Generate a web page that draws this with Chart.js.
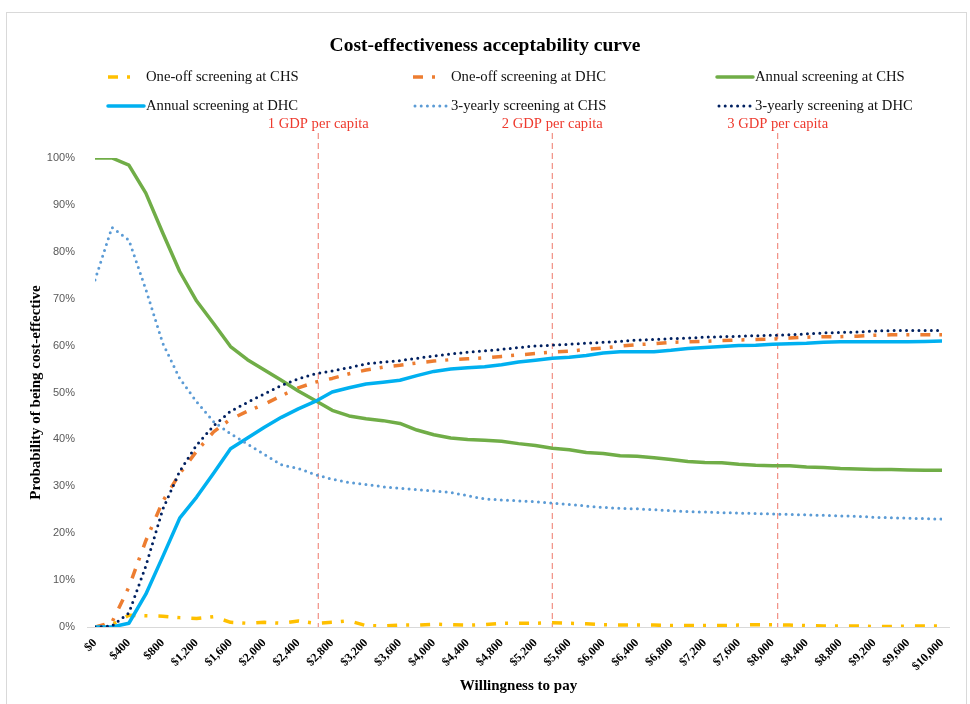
<!DOCTYPE html>
<html>
<head>
<meta charset="utf-8">
<title>Cost-effectiveness acceptability curve</title>
<script src="https://cdn.jsdelivr.net/npm/chart.js@4.4.1/dist/chart.umd.min.js"></script>
<style>
  html, body { margin: 0; padding: 0; background: #ffffff; }
  #wrap { width: 970px; height: 704px; position: relative; }
</style>
</head>
<body>
<div id="wrap"><canvas id="ceac" width="970" height="704"></canvas></div>
<script>
// Willingness to pay (US$) at which each probability was evaluated
const wtp = [0, 200, 400, 600, 800, 1000, 1200, 1400, 1600, 1800,
  2000, 2200, 2400, 2600, 2800, 3000, 3200, 3400, 3600, 3800,
  4000, 4200, 4400, 4600, 4800, 5000, 5200, 5400, 5600, 5800,
  6000, 6200, 6400, 6600, 6800, 7000, 7200, 7400, 7600, 7800,
  8000, 8200, 8400, 8600, 8800, 9000, 9200, 9400, 9600, 9800, 10000];

// Probability (%) of each strategy being cost-effective
const oneOffCHS = [0, 0.5, 2.5, 2.4, 2.3, 2.0, 1.8, 2.2, 1.0, 0.8,
  1.0, 0.8, 1.3, 0.8, 1.0, 1.3, 0.3, 0.2, 0.4, 0.4,
  0.6, 0.5, 0.4, 0.5, 0.8, 0.8, 0.8, 0.9, 0.8, 0.7,
  0.5, 0.4, 0.4, 0.4, 0.3, 0.3, 0.3, 0.3, 0.4, 0.5,
  0.5, 0.4, 0.3, 0.2, 0.2, 0.2, 0.1, 0.1, 0.2, 0.2, 0.2];
const oneOffDHC = [0, 1.0, 8.5, 18.4, 26.8, 32.7, 37.5, 41.6, 44.3, 46.0,
  47.5, 49.3, 51.0, 52.2, 53.0, 54.0, 54.8, 55.4, 55.8, 56.3,
  56.7, 57.0, 57.2, 57.4, 57.7, 58.0, 58.3, 58.6, 58.8, 59.2,
  59.5, 59.9, 60.2, 60.4, 60.7, 60.8, 60.9, 61.1, 61.2, 61.3,
  61.4, 61.6, 61.8, 61.9, 61.9, 62.0, 62.2, 62.3, 62.3, 62.3, 62.3];
const annualCHS = [100, 100, 98.5, 92.5, 84, 75.8, 69.5, 64.7, 59.8, 57,
  54.8, 52.6, 50.3, 48.3, 46.2, 45, 44.4, 44, 43.4, 42,
  41, 40.3, 40, 39.8, 39.6, 39.1, 38.7, 38.1, 37.8, 37.2,
  37, 36.5, 36.4, 36.1, 35.7, 35.3, 35.1, 35, 34.7, 34.5,
  34.4, 34.4, 34.1, 34, 33.8, 33.7, 33.6, 33.6, 33.5, 33.4, 33.4];
const annualDHC = [0, 0, 0.8, 7.0, 15.0, 23.2, 27.7, 32.8, 38.0, 40.3,
  42.6, 44.7, 46.5, 48.1, 50.1, 51.0, 51.8, 52.2, 52.6, 53.6,
  54.5, 55.0, 55.3, 55.5, 55.9, 56.5, 56.9, 57.3, 57.5, 57.9,
  58.4, 58.7, 58.7, 58.7, 59.0, 59.4, 59.6, 59.8, 60.0, 60.1,
  60.3, 60.4, 60.5, 60.7, 60.8, 60.8, 60.8, 60.8, 60.8, 60.9, 61.0];
const threeYearlyCHS = [74, 85.2, 82.5, 72, 60.5, 53, 48, 43.8, 41.2, 39,
  36.8, 34.6, 33.8, 32.5, 31.5, 30.8, 30.4, 29.9, 29.6, 29.3,
  29.0, 28.7, 28.0, 27.3, 27.1, 26.9, 26.7, 26.4, 26.1, 25.8,
  25.5, 25.3, 25.2, 25.0, 24.8, 24.6, 24.5, 24.4, 24.3, 24.2,
  24.1, 24.0, 23.9, 23.8, 23.7, 23.6, 23.4, 23.3, 23.2, 23.1, 23.0];
const threeYearlyDHC = [0, 0.2, 3.0, 13.0, 25.1, 33.2, 38.8, 42.9, 46.0, 47.9,
  49.7, 51.5, 52.9, 54.0, 54.6, 55.3, 56.1, 56.5, 56.8, 57.3,
  57.8, 58.2, 58.6, 58.9, 59.2, 59.6, 59.9, 60.1, 60.3, 60.5,
  60.7, 60.9, 61.2, 61.3, 61.5, 61.6, 61.8, 61.9, 62.0, 62.1,
  62.2, 62.3, 62.5, 62.7, 62.8, 62.9, 63.1, 63.2, 63.2, 63.2, 63.2];

const seriesNames = ['One-off screening at CHS', 'One-off screening at DHC', 'Annual screening at CHS',
  'Annual screening at DHC', '3-yearly screening at CHS', '3-yearly screening at DHC'];

// Axis tick values
const xTicks = [0, 400, 800, 1200, 1600, 2000, 2400, 2800, 3200, 3600, 4000, 4400, 4800,
  5200, 5600, 6000, 6400, 6800, 7200, 7600, 8000, 8400, 8800, 9200, 9600, 10000];
const yTicks = [0, 10, 20, 30, 40, 50, 60, 70, 80, 90, 100];

// Willingness-to-pay thresholds at 1, 2 and 3 times GDP per capita
const gdpThresholds = [2636, 5399, 8060];
const gdpLabels = ['1 GDP per capita', '2 GDP per capita', '3 GDP per capita'];

const SERIF = '"Liberation Serif", "Times New Roman", serif';
const SANS = '"Liberation Sans", Arial, sans-serif';

const toPoints = (vals) => wtp.map((x, i) => ({ x: x, y: vals[i] }));

const dashDot = [10, 9, 3, 11];
const dotted = [0, 6.2];

const datasets = [
  { label: seriesNames[0], data: toPoints(oneOffCHS), borderColor: '#ffc000', borderWidth: 3.5,
    borderDash: dashDot, borderCapStyle: 'butt' },
  { label: seriesNames[1], data: toPoints(oneOffDHC), borderColor: '#ed7d31', borderWidth: 3.5,
    borderDash: dashDot, borderCapStyle: 'butt' },
  { label: seriesNames[2], data: toPoints(annualCHS), borderColor: '#70ad47', borderWidth: 3.5,
    borderDash: [], borderCapStyle: 'round' },
  { label: seriesNames[3], data: toPoints(annualDHC), borderColor: '#00b0f0', borderWidth: 3.5,
    borderDash: [], borderCapStyle: 'round' },
  { label: seriesNames[4], data: toPoints(threeYearlyCHS), borderColor: '#5b9bd5', borderWidth: 3,
    borderDash: dotted, borderCapStyle: 'round' },
  { label: seriesNames[5], data: toPoints(threeYearlyDHC), borderColor: '#002060', borderWidth: 3,
    borderDash: dotted, borderCapStyle: 'round' }
].map((d, i, arr) => Object.assign(d, {
  fill: false, tension: 0, pointRadius: 0, pointHoverRadius: 0,
  borderJoinStyle: 'round', order: arr.length - i
}));

// Frame, background, axis line and threshold markers
const decorations = {
  id: 'decorations',
  beforeDraw(chart) {
    const ctx = chart.ctx;
    ctx.save();
    ctx.fillStyle = '#ffffff';
    ctx.fillRect(0, 0, chart.width, chart.height);
    ctx.strokeStyle = '#d9d9d9';
    ctx.lineWidth = 1;
    ctx.strokeRect(6.5, 12.5, 960, 720);
    ctx.restore();
  },
  beforeDatasetsDraw(chart) {
    const ctx = chart.ctx, area = chart.chartArea, xs = chart.scales.x;
    ctx.save();
    // horizontal axis line
    ctx.strokeStyle = '#d9d9d9';
    ctx.lineWidth = 1.2;
    ctx.beginPath();
    ctx.moveTo(area.left - 8, Math.round(area.bottom) + 0.5);
    ctx.lineTo(area.right + 8, Math.round(area.bottom) + 0.5);
    ctx.stroke();
    // GDP per capita thresholds
    ctx.strokeStyle = '#f08578';
    ctx.lineWidth = 1.1;
    ctx.setLineDash([6, 4]);
    gdpThresholds.forEach((v) => {
      const px = xs.getPixelForValue(v);
      ctx.beginPath();
      ctx.moveTo(px, area.top - 25);
      ctx.lineTo(px, area.bottom);
      ctx.stroke();
    });
    ctx.restore();
  },
  afterDraw(chart) {
    const ctx = chart.ctx, area = chart.chartArea, xs = chart.scales.x;
    ctx.save();
    ctx.textAlign = 'center';
    ctx.textBaseline = 'middle';

    // title
    ctx.fillStyle = '#000000';
    ctx.font = 'bold 19.5px ' + SERIF;
    ctx.fillText('Cost-effectiveness acceptability curve', 485, 46);

    // threshold labels
    ctx.fillStyle = '#ee3a2e';
    ctx.font = '14.6px ' + SERIF;
    gdpThresholds.forEach((v, i) => {
      ctx.fillText(gdpLabels[i], xs.getPixelForValue(v), 124.5);
    });

    // axis titles
    ctx.fillStyle = '#000000';
    ctx.font = 'bold 15px ' + SERIF;
    ctx.fillText('Willingness to pay', (area.left + area.right) / 2, 686);
    ctx.translate(36, (area.top + area.bottom) / 2);
    ctx.rotate(-Math.PI / 2);
    ctx.fillText('Probability of being cost-effective', 0, 0);
    ctx.restore();

    // legend: three columns, two rows
    const colX = [108, 413, 717];
    const rowY = [77, 106];
    ctx.save();
    chart.data.datasets.forEach((ds, i) => {
      const x0 = colX[i % 3], y0 = rowY[Math.floor(i / 3)];
      const dash = ds.borderDash || [];
      const isDashDot = dash.length === 4;
      const isDotted = dash.length === 2 && dash[0] === 0;
      ctx.strokeStyle = ds.borderColor;
      ctx.lineWidth = ds.borderWidth;
      ctx.lineCap = ds.borderCapStyle;
      ctx.setLineDash(dash);
      ctx.beginPath();
      ctx.moveTo(x0 + (isDotted ? 2 : 0), y0);
      ctx.lineTo(x0 + (isDashDot ? 22 : 36), y0);
      ctx.stroke();
      ctx.setLineDash([]);
      ctx.fillStyle = '#111111';
      ctx.font = '14.7px ' + SERIF;
      ctx.textAlign = 'left';
      ctx.textBaseline = 'middle';
      ctx.fillText(ds.label, x0 + 38, y0);
    });
    ctx.restore();
  }
};

new Chart(document.getElementById('ceac'), {
  type: 'line',
  data: { datasets: datasets },
  options: {
    responsive: false,
    animation: false,
    devicePixelRatio: 1,
    layout: { padding: { top: 158, left: 0, right: 28, bottom: 0 } },
    plugins: { legend: { display: false }, title: { display: false }, tooltip: { enabled: false } },
    scales: {
      x: {
        type: 'linear', min: 0, max: 10000,
        grid: { display: false, drawTicks: false },
        border: { display: false },
        afterBuildTicks(s) { s.ticks = xTicks.map((v) => ({ value: v })); },
        ticks: {
          autoSkip: false, maxRotation: 45, minRotation: 45, padding: 9,
          color: '#000000',
          font: { family: SERIF, size: 12, weight: 'bold' },
          callback: (v) => '$' + Number(v).toLocaleString('en-US')
        },
        afterFit(s) { s.height = 77; s.paddingLeft = 0; s.paddingRight = 0; }
      },
      y: {
        min: 0, max: 100,
        grid: { display: false, drawTicks: false },
        border: { display: false },
        afterBuildTicks(s) { s.ticks = yTicks.map((v) => ({ value: v })); },
        ticks: {
          padding: 20, color: '#595959',
          font: { family: SANS, size: 11 },
          callback: (v) => v + '%'
        },
        afterFit(s) { s.width = 95; }
      }
    }
  },
  plugins: [decorations]
});
</script>
</body>
</html>
